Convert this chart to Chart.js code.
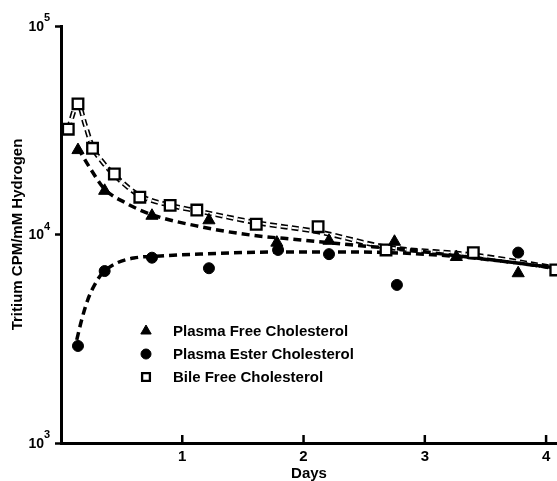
<!DOCTYPE html>
<html>
<head>
<meta charset="utf-8">
<script src="https://cdn.jsdelivr.net/npm/chart.js@4.4.0/dist/chart.umd.min.js"></script>
<style>
  html, body { margin: 0; padding: 0; background: #fff; }
  canvas { display: block; }
</style>
</head>
<body>
<canvas id="grafica" width="557" height="481"></canvas>
<script>
// measured points (days, tritium CPM/mM hydrogen)
const freeDays = [0.14, 0.36, 0.75, 1.22, 1.78, 2.21, 2.75, 3.26, 3.77];
const freeCpm = [25400, 16200, 12300, 11700, 9140, 9330, 9230, 7800, 6520];

const esterDays = [0.14, 0.36, 0.75, 1.22, 1.79, 2.21, 2.77, 3.77];
const esterCpm = [2920, 6680, 7740, 6890, 8430, 8050, 5730, 8190];

const bileDays = [0.06, 0.14, 0.26, 0.44, 0.65, 0.90, 1.12, 1.61, 2.12, 2.68, 3.40, 4.08];
const bileCpm = [32000, 42300, 25900, 19500, 15100, 13800, 13100, 11200, 10900, 8430, 8190, 6760];

// dashed fitted curves
const freeFitDays = [0.14, 0.24, 0.36, 0.53, 0.74, 1.15, 1.56, 1.98, 2.39, 2.80, 3.21, 3.63, 4.09];
const freeFitCpm = [26000, 20800, 16500, 14200, 12500, 10900, 9950, 9420, 8920, 8510, 7980, 7460, 6900];

const esterFitDays = [0.13, 0.17, 0.22, 0.30, 0.36, 0.46, 0.60, 0.82, 1.15, 1.79, 2.39, 2.80, 3.21, 3.63, 4.09];
const esterFitCpm = [3120, 3890, 4850, 6050, 6680, 7300, 7710, 7890, 8060, 8240, 8240, 8150, 7890, 7460, 6900];

const bileFitDays = [0.06, 0.14, 0.20, 0.26, 0.35, 0.44, 0.64, 0.90, 1.12, 1.61, 2.12, 2.68, 3.40, 4.09];
const bileFitCpm = [32100, 42300, 33500, 26300, 22000, 19300, 15500, 13800, 13000, 11400, 10300, 8710, 7980, 6900];

const seriesNames = ["Plasma Free Cholesterol", "Plasma Ester Cholesterol", "Bile Free Cholesterol"];
const dayTicks = [1, 2, 3, 4];
const cpmTicks = [1000, 10000, 100000];

const FONT = '"Liberation Sans", Arial, sans-serif';

function puntos(xs, ys) {
  return xs.map((x, i) => ({ x: x, y: ys[i] }));
}

// ticks on the x axis point up into the plot
const ticksAdentro = {
  id: "ticksAdentro",
  afterDraw(chart) {
    const ctx = chart.ctx;
    const xs = chart.scales.x;
    const base = chart.chartArea.bottom;
    ctx.save();
    ctx.strokeStyle = "#000";
    ctx.lineWidth = 2.5;
    dayTicks.forEach(d => {
      const px = xs.getPixelForValue(d);
      ctx.beginPath();
      ctx.moveTo(px, base);
      ctx.lineTo(px, base - 8);
      ctx.stroke();
    });
    ctx.restore();
  }
};

// y labels written as 10 with a raised exponent
const etiquetasLog = {
  id: "etiquetasLog",
  afterDraw(chart) {
    const ctx = chart.ctx;
    const ys = chart.scales.y;
    ctx.save();
    ctx.fillStyle = "#000";
    ctx.textBaseline = "middle";
    cpmTicks.forEach(v => {
      const py = ys.getPixelForValue(v);
      ctx.font = "bold 14px " + FONT;
      ctx.textAlign = "right";
      ctx.fillText("10", 44, py + 1);
      ctx.font = "bold 11px " + FONT;
      ctx.textAlign = "left";
      ctx.fillText(String(Math.round(Math.log10(v))), 44, py - 8);
    });
    ctx.restore();
  }
};

// legend sits inside the plot, lower left
const leyenda = {
  id: "leyenda",
  afterDraw(chart) {
    const ctx = chart.ctx;
    ctx.save();
    ctx.font = "bold 15px " + FONT;
    ctx.textBaseline = "middle";
    ctx.textAlign = "left";
    for (let i = 0; i < 3; i++) {
      const ds = chart.data.datasets[i];
      const y = 331 + i * 23;
      ctx.fillStyle = ds.backgroundColor;
      ctx.strokeStyle = "#000";
      ctx.lineWidth = ds.borderWidth;
      Chart.helpers.drawPoint(ctx, {
        pointStyle: ds.pointStyle,
        radius: ds.legendRadius,
        borderWidth: ds.borderWidth,
        rotation: 0
      }, 146, y);
      ctx.fillStyle = "#000";
      ctx.fillText(ds.label, 173, y + 1);
    }
    ctx.restore();
  }
};

const ctx = document.getElementById("grafica").getContext("2d");
new Chart(ctx, {
  type: "scatter",
  data: {
    datasets: [
      {
        label: seriesNames[0],
        data: puntos(freeDays, freeCpm),
        pointStyle: "triangle",
        pointRadius: 7,
        legendRadius: 6,
        backgroundColor: "#000",
        borderColor: "#000",
        borderWidth: 1,
        clip: false,
        order: 0
      },
      {
        label: seriesNames[1],
        data: puntos(esterDays, esterCpm),
        pointStyle: "circle",
        pointRadius: 5.5,
        legendRadius: 5,
        backgroundColor: "#000",
        borderColor: "#000",
        borderWidth: 1,
        clip: false,
        order: 0
      },
      {
        label: seriesNames[2],
        data: puntos(bileDays, bileCpm),
        pointStyle: "rect",
        pointRadius: 7.5,
        legendRadius: 5.5,
        backgroundColor: "#fff",
        borderColor: "#000",
        borderWidth: 2.3,
        clip: false,
        order: 0
      },
      {
        label: "free fit",
        data: puntos(freeFitDays, freeFitCpm),
        showLine: true,
        pointRadius: 0,
        borderColor: "#000",
        borderWidth: 3.5,
        borderDash: [8, 5],
        cubicInterpolationMode: "monotone",
        order: 3
      },
      {
        label: "ester fit",
        data: puntos(esterFitDays, esterFitCpm),
        showLine: true,
        pointRadius: 0,
        borderColor: "#000",
        borderWidth: 3.5,
        borderDash: [8, 5],
        cubicInterpolationMode: "monotone",
        order: 3
      },
      {
        // inner white stroke turns the wide dash into a double dash
        label: "bile fit inner",
        data: puntos(bileFitDays, bileFitCpm),
        showLine: true,
        pointRadius: 0,
        borderColor: "#fff",
        borderWidth: 1.8,
        borderDash: [7, 4],
        cubicInterpolationMode: "monotone",
        order: 5
      },
      {
        label: "bile fit",
        data: puntos(bileFitDays, bileFitCpm),
        showLine: true,
        pointRadius: 0,
        borderColor: "#000",
        borderWidth: 5,
        borderDash: [7, 4],
        cubicInterpolationMode: "monotone",
        order: 6
      }
    ]
  },
  options: {
    responsive: false,
    animation: false,
    devicePixelRatio: 1,
    layout: {
      autoPadding: false,
      padding: { top: 26, right: 0, bottom: 0, left: 0 }
    },
    plugins: {
      legend: { display: false },
      tooltip: { enabled: false }
    },
    scales: {
      x: {
        type: "linear",
        min: 0,
        max: 4.09,
        afterBuildTicks: s => { s.ticks = dayTicks.map(v => ({ value: v })); },
        afterFit: s => {
          s.height = 38;
          s.paddingLeft = 0;
          s.paddingRight = 0;
        },
        grid: { drawOnChartArea: false, drawTicks: false },
        border: { display: true, color: "#000", width: 3 },
        ticks: {
          color: "#000",
          padding: 5,
          maxRotation: 0,
          font: { family: FONT, size: 15, weight: "bold" }
        },
        title: {
          display: true,
          text: "Days",
          color: "#000",
          padding: { top: 0, bottom: 0 },
          font: { family: FONT, size: 15, weight: "bold", lineHeight: 1 }
        }
      },
      y: {
        type: "logarithmic",
        min: 1000,
        max: 100000,
        afterBuildTicks: s => { s.ticks = cpmTicks.map(v => ({ value: v })); },
        afterFit: s => {
          s.width = 61;
          s.paddingTop = 0;
          s.paddingBottom = 0;
        },
        grid: {
          drawOnChartArea: false,
          drawTicks: true,
          tickLength: 6,
          tickWidth: 2.5,
          tickColor: "#000"
        },
        border: { display: true, color: "#000", width: 3 },
        ticks: { display: false },
        title: {
          display: true,
          text: "Tritium CPM/mM Hydrogen",
          color: "#000",
          padding: { top: 10, bottom: 0 },
          font: { family: FONT, size: 15, weight: "bold", lineHeight: 1 }
        }
      }
    }
  },
  plugins: [ticksAdentro, etiquetasLog, leyenda]
});
</script>
</body>
</html>
